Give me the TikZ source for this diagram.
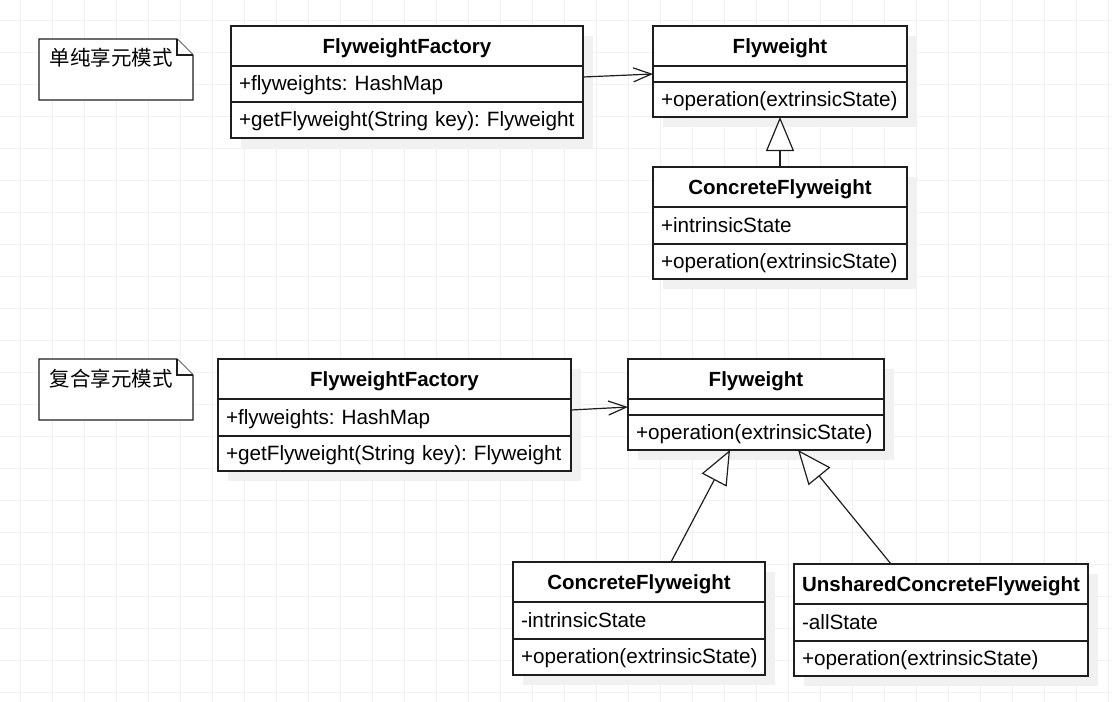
\documentclass[tikz,border=0pt]{standalone}
\usepackage{fontspec}
\setmainfont{Liberation Sans}
\newfontfamily\cjk{Noto Sans CJK SC}
\usetikzlibrary{positioning,arrows.meta,shadows}
\definecolor{umlline}{RGB}{30,30,30}
\definecolor{gridgray}{RGB}{240,240,240}
\definecolor{shadowgray}{RGB}{241,241,241}
\newcommand{\umlsize}{\fontsize{20.5}{24}\selectfont\frenchspacing}
\newcommand{\rowsize}{\fontsize{20.7}{24}\selectfont\frenchspacing\hyphenpenalty=10000}

\begin{document}
\begin{tikzpicture}[x=1pt,y=-1pt,line width=1.3pt] %[>=stealth']
          \tikzstyle{every node}=[font=\umlsize]
          \tikzset{
            cls/.style={draw=umlline, fill=white, outer sep=0pt, inner xsep=8pt, inner ysep=0pt,
              text width=#1, text depth=4pt, drop shadow={shadow xshift=10pt, shadow yshift=-10pt, opacity=1, fill=shadowgray}},
            hd/.style={cls=#1, anchor=north west, align=center, minimum height=40pt, text height=19.4pt, font=\umlsize\bfseries},
            row/.style={cls=#1, align=left, text height=17pt, font=\rowsize},
            notebox/.style={draw=umlline, fill=white, line join=miter},
            notetxt/.style={anchor=west, inner sep=0pt, font=\umlsize\cjk},
            gridln/.style={draw=gridgray, line width=1pt},
            assoc/.style={draw=umlline, line width=1.2pt, -{Straight Barb[length=18pt,width=14pt]}},
            inherit/.style={draw=umlline, line width=1.2pt, -{Triangle[length=34pt,width=28pt,fill=white]}}
          }
            \useasboundingbox (0,0) rectangle (1112,702);
            \fill[white] (0,0) rectangle (1112,702);
            \foreach \g in {20.5,52.5,...,1112} \draw[gridln] (\g,0) -- (\g,702);
            \foreach \g in {20.5,52.5,...,702} \draw[gridln] (0,\g) -- (1112,\g);

            % simple flyweight
            \draw[notebox] (39,39) -- (177,39) -- (193,55) -- (193,100) -- (39,100) -- cycle;
            \draw[notebox] (177,39) -- (177,55) -- (193,55);
            \node[notetxt] (n1) at (49,58) {单纯享元模式};

            \node[hd=336pt] (ff1) at (231,26) {FlyweightFactory};
            \node[row=336pt, minimum height=36pt, below=0pt of ff1] (ff1at) {+flyweights: HashMap};
            \node[row=336pt, minimum height=36pt, below=0pt of ff1at] (ff1op) {+getFlyweight(String key): Flyweight};

            \node[hd=238pt] (fw1) at (653,26) {Flyweight};
            \node[row=238pt, minimum height=16pt, text height=0pt, text depth=0pt, below=0pt of fw1] (fw1em) {};
            \node[row=238pt, minimum height=35pt, below=0pt of fw1em] (fw1op) {+operation(extrinsicState)};

            \node[hd=238pt] (cf1) at (653,167) {ConcreteFlyweight};
            \node[row=238pt, minimum height=37pt, below=0pt of cf1] (cf1at) {+intrinsicState};
            \node[row=238pt, minimum height=35pt, below=0pt of cf1at] (cf1op) {+operation(extrinsicState)};

            \draw[assoc] ([yshift=7pt]ff1at.east) -- (fw1em.west);
            \draw[inherit] (cf1.north) -- (fw1op.south);

            % composite flyweight
            \draw[notebox] (39,359) -- (177,359) -- (193,375) -- (193,420) -- (39,420) -- cycle;
            \draw[notebox] (177,359) -- (177,375) -- (193,375);
            \node[notetxt] (n2) at (49,379) {复合享元模式};

            \node[hd=337pt] (ff2) at (218,359) {FlyweightFactory};
            \node[row=337pt, minimum height=37pt, below=0pt of ff2] (ff2at) {+flyweights: HashMap};
            \node[row=337pt, minimum height=35pt, below=0pt of ff2at] (ff2op) {+getFlyweight(String key): Flyweight};

            \node[hd=240pt] (fw2) at (628,359) {Flyweight};
            \node[row=240pt, minimum height=16pt, text height=0pt, text depth=0pt, below=0pt of fw2] (fw2em) {};
            \node[row=240pt, minimum height=35pt, below=0pt of fw2em] (fw2op) {+operation(extrinsicState)};

            \node[hd=236pt] (cf2) at (513,562) {ConcreteFlyweight};
            \node[row=236pt, minimum height=37pt, below=0pt of cf2] (cf2at) {-intrinsicState};
            \node[row=236pt, minimum height=36pt, below=0pt of cf2at] (cf2op) {+operation(extrinsicState)};

            \node[hd=278pt] (uc2) at (794,564) {UnsharedConcreteFlyweight};
            \node[row=278pt, minimum height=37pt, below=0pt of uc2] (uc2at) {-allState};
            \node[row=278pt, minimum height=35pt, below=0pt of uc2at] (uc2op) {+operation(extrinsicState)};

            \draw[assoc] ([yshift=7.5pt]ff2at.east) -- (fw2em.west);
            \draw[inherit] ([xshift=32pt]cf2.north) -- ([xshift=-26pt]fw2op.south);
            \draw[inherit] ([xshift=-50pt]uc2.north) -- ([xshift=42pt]fw2op.south);
        \end{tikzpicture}
\end{document}
